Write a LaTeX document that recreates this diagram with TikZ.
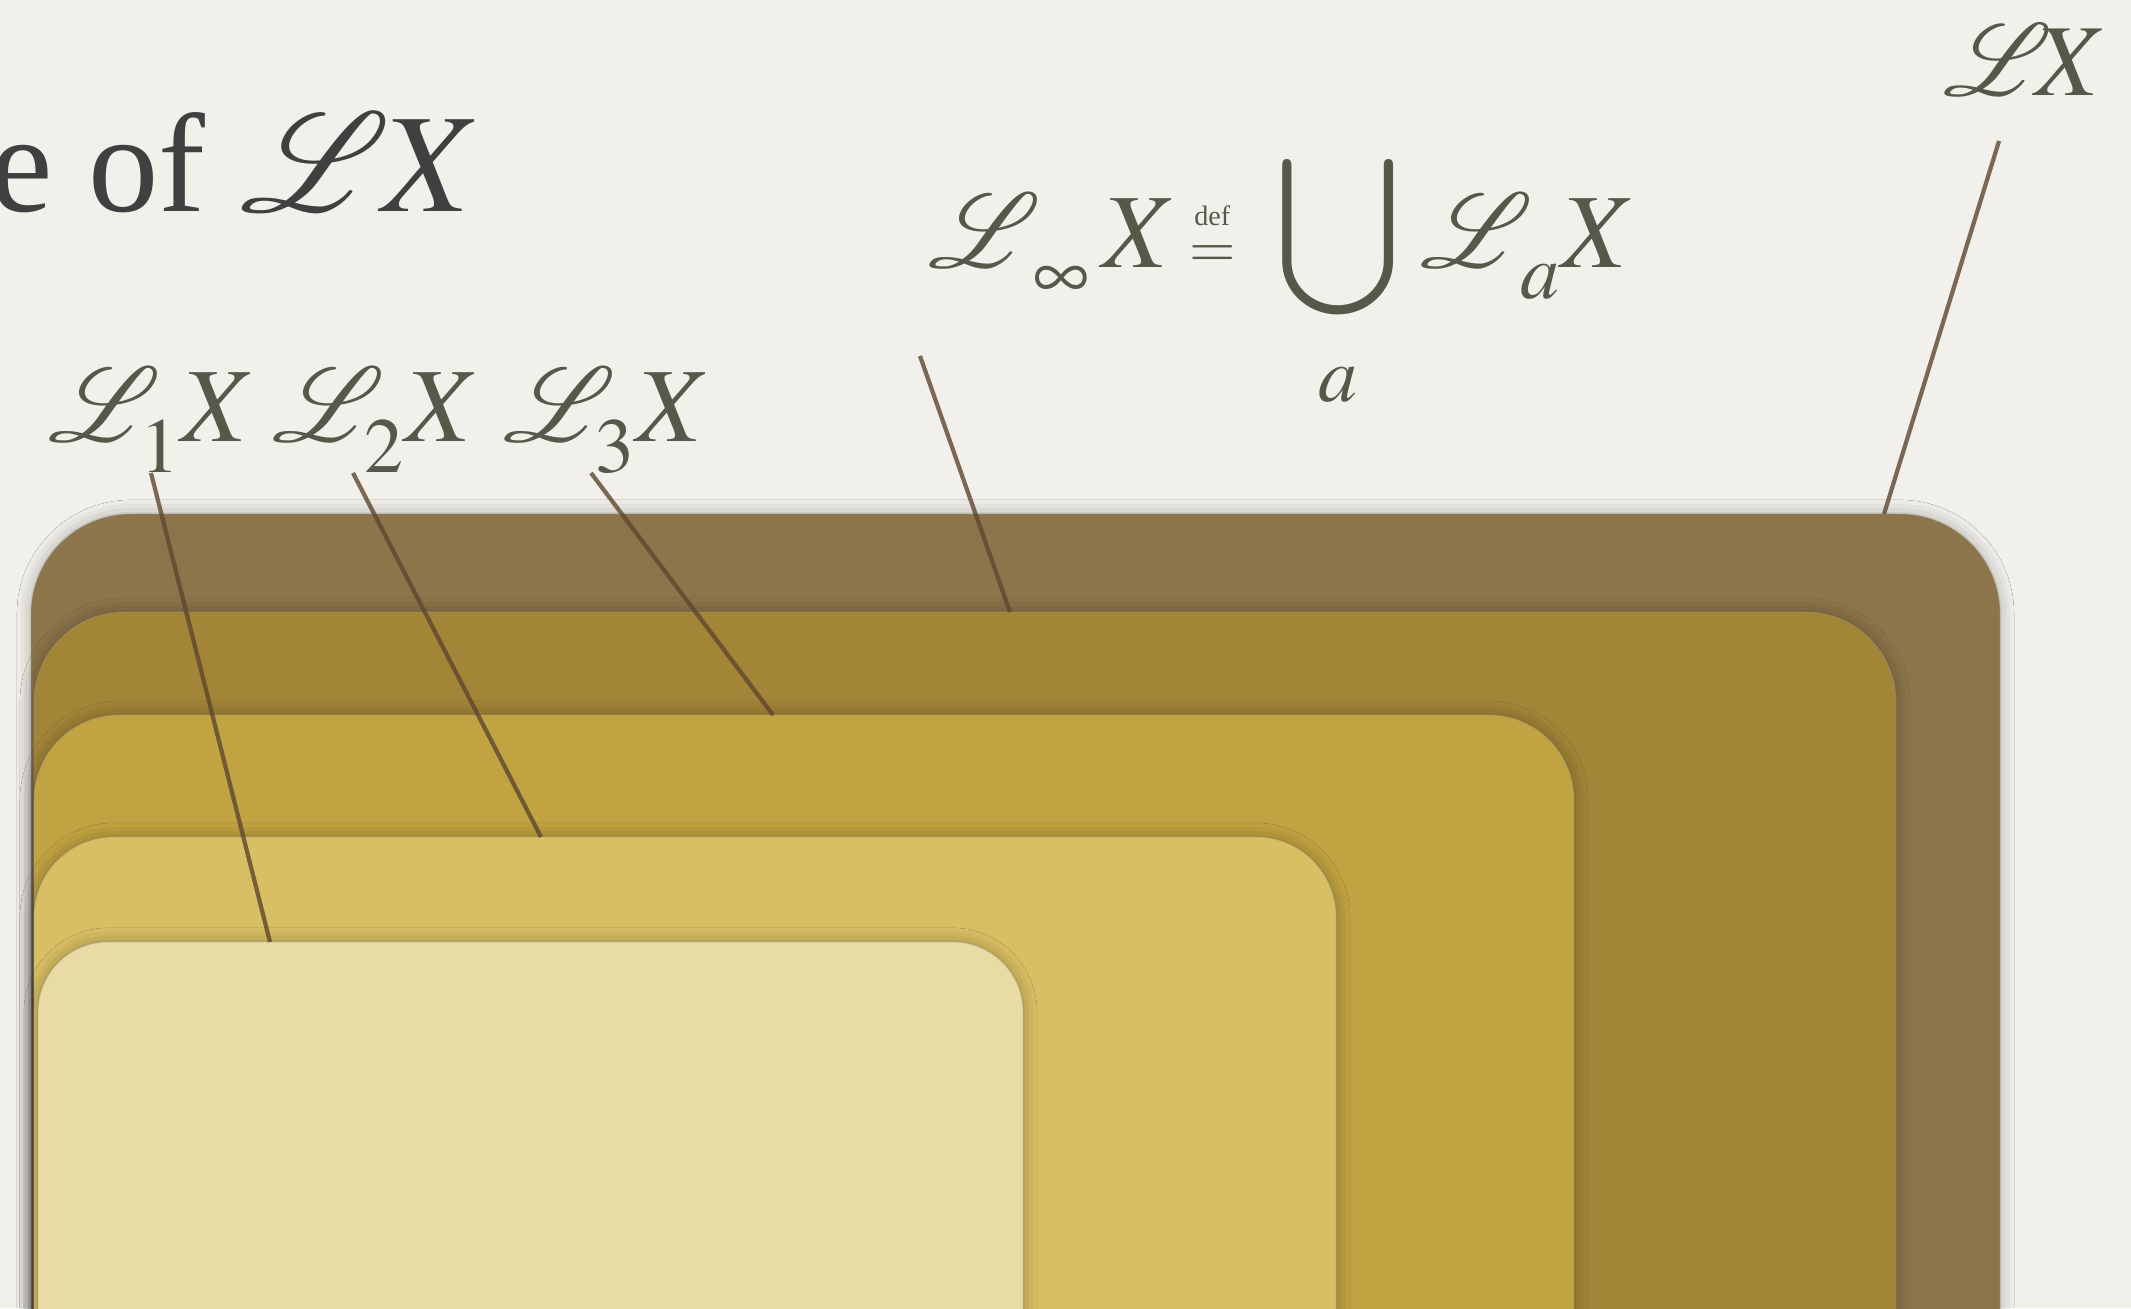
\documentclass[tikz,border=0pt]{standalone}
\usepackage{amsmath}
\usepackage{mathptmx}
\DeclareFontFamily{U}{rsfs}{\skewchar\font127 }
\DeclareFontShape{U}{rsfs}{m}{n}{<-6> rsfs5 <6-8> rsfs7 <8-> rsfs10}{}
\usepackage{mathrsfs}
\usepackage{fontspec}
\setmainfont{Liberation Serif}
\usetikzlibrary{shadows.blur}
\definecolor{paper}{rgb}{0.95, 0.94, 0.92}
\definecolor{ink}{rgb}{0.34, 0.34, 0.29}
\definecolor{titleink}{rgb}{0.25, 0.25, 0.25}
\definecolor{leadbrown}{rgb}{0.37, 0.28, 0.18}
\definecolor{lzero}{rgb}{0.55, 0.46, 0.29}
\definecolor{linf}{rgb}{0.64, 0.52, 0.22}
\definecolor{lthree}{rgb}{0.76, 0.64, 0.26}
\definecolor{ltwo}{rgb}{0.85, 0.75, 0.39}
\definecolor{lone}{rgb}{0.91, 0.86, 0.64}
\newcommand{\dsub}[1]{_{\lower0.14em\hbox{$\scriptstyle#1$}}}
\newcommand{\defeq}{\mkern-2mu\mathrel{\stackrel{\hbox{\fontsize{8}{9}\selectfont def}}{\hbox{\fontsize{17}{18}\selectfont$=$}}}\mkern3mu}

\begin{document}
\begin{tikzpicture}[
  tray/.style={rounded corners=#1, draw=black!40, draw opacity=0.25, line width=0.4pt,
    blur shadow={shadow xshift=0pt, shadow yshift=0pt, shadow blur radius=4pt, shadow opacity=30}},
  lbl/.style={inner sep=0pt, text=ink, font=\fontsize{30}{36}\selectfont},
  leader/.style={draw=leadbrown, line width=1.2pt, opacity=0.8}
]
\clip (0,0) rectangle (21.31,13.08);
\fill[paper] (0,0) rectangle (21.31,13.08);
% nested boxes
\fill[tray=1cm, fill=lzero] (0.31,-1) rectangle (20.00,7.94);
\fill[tray=0.9cm, fill=linf] (0.34,-1) rectangle (18.96,6.96);
\fill[tray=0.85cm, fill=lthree] (0.34,-1) rectangle (15.74,5.93);
\fill[tray=0.8cm, fill=ltwo] (0.34,-1) rectangle (13.36,4.71);
\fill[tray=0.7cm, fill=lone] (0.38,-1) rectangle (10.23,3.66);
% labels
\node[anchor=base west, inner sep=0pt, text=titleink, font=\fontsize{40}{48}\selectfont] (title) at (-0.10,10.96) {e of $\mathscr{L}\mkern-1mu X$};
\node[lbl, anchor=base east, font=\fontsize{29}{35}\selectfont] (lx) at (21.08,12.12) {$\mathscr{L}\mkern-3mu X$};
\node[lbl, anchor=base west] (linfx) at (9.28,10.40) {$\displaystyle\mathscr{L}\dsub{\mkern3mu\infty}\mkern2mu X \defeq \mathop{\scalebox{1.17}{$\displaystyle\bigcup$}}\limits_{\rule{0pt}{0.55em}a}\mkern1.5mu\mathscr{L}\dsub{\mkern2mu a}X$};
\node[lbl, anchor=base west] (l1x) at (0.48,8.66) {$\mathscr{L}\dsub{1}X$};
\node[lbl, anchor=base west] (l2x) at (2.72,8.66) {$\mathscr{L}\dsub{2}X$};
\node[lbl, anchor=base west] (l3x) at (5.03,8.66) {$\mathscr{L}\dsub{3}X$};
% leader ends
\coordinate (e1) at (2.70,3.66);
\coordinate (e2) at (5.41,4.71);
\coordinate (e3) at (7.73,5.93);
\coordinate (einf) at (10.10,6.96);
\coordinate (elx) at (18.84,7.94);
\draw[leader] ([shift={(1.03,-0.31)}]l1x.base west) -- (e1);
\draw[leader] ([shift={(0.81,-0.31)}]l2x.base west) -- (e2);
\draw[leader] ([shift={(0.88,-0.31)}]l3x.base west) -- (e3);
\draw[leader] ([shift={(-0.08,-0.88)}]linfx.base west) -- (einf);
\draw[leader] ([shift={(-1.09,-0.45)}]lx.base east) -- (elx);
\end{tikzpicture}
\end{document}
